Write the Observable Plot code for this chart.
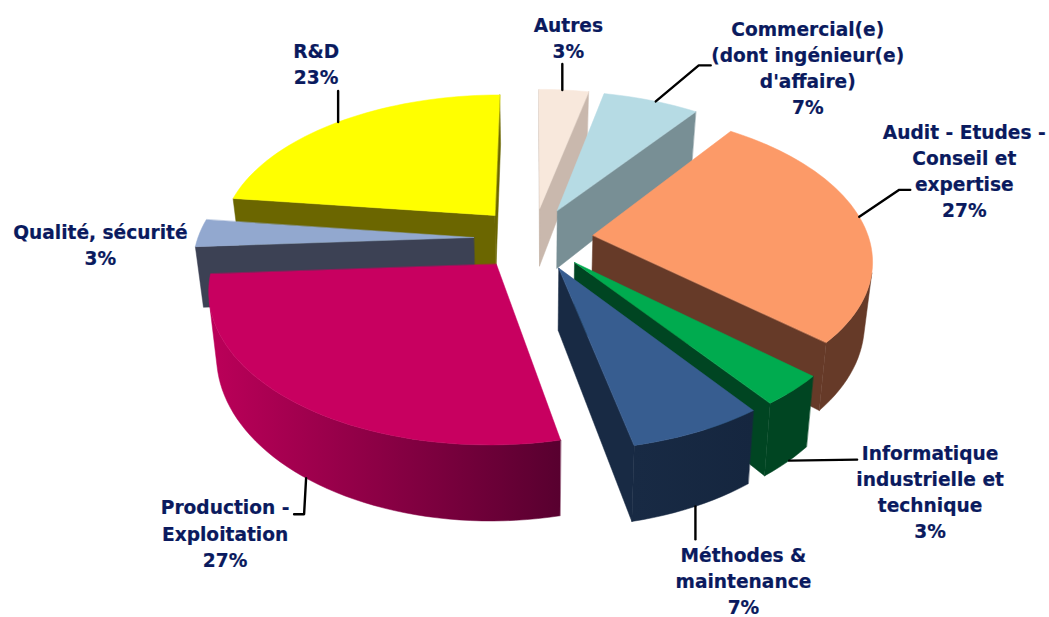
<!DOCTYPE html>
<html lang="fr">
<head>
<meta charset="utf-8">
<script src="https://cdn.jsdelivr.net/npm/d3@7"></script>
<script src="https://cdn.jsdelivr.net/npm/@observablehq/plot@0.6"></script>
<style>
  html, body { margin: 0; padding: 0; background: #fff; }
  svg { display: block; }
</style>
</head>
<body>
<div id="chart"></div>
<script>
// Data (slice sizes; the labels show them rounded)
const categories = [
  "Autres",
  "Commercial(e)\n(dont ingénieur(e)\nd'affaire)",
  "Audit - Etudes -\nConseil et\nexpertise",
  "Informatique\nindustrielle et\ntechnique",
  "Méthodes &\nmaintenance",
  "Production -\nExploitation",
  "Qualité, sécurité",
  "R&D"
];
const values = [3.4, 6.6, 26.7, 3.3, 6.6, 27.4, 3, 23];

// Colours
const topColors = ["#f8e8dc", "#b6dbe4", "#fc9a68", "#00ab4f", "#375d90", "#c80060", "#92a8cf", "#ffff00"];
const wallFrom  = ["#c9b8ad", "#788f95", "#663a28", "#004522", "#15263f", "#58002f", "#3c4154", "#6b6600"];
const wallTo    = ["#c9b8ad", "#788f95", "#663a28", "#004522", "#182a44", "#bb0059", "#3c4154", "#6b6600"];
const textColor = "#0a1a5e";

// Projection of the tilted, exploded pie
const view = {cx: 533, cy: 238, rx: 276, ry: 145, persp: 0.15, depth: 60, depthPersp: 0.18, shrink: 0.976, explode: 0.217};
const project = (gx, gy, low) => {
  const s = 1 / (1 + view.persp * gy);
  const sd = 1 / (1 + view.depthPersp * gy);
  return low
    ? {x: view.cx + view.rx * gx * s * view.shrink, y: view.cy - view.ry * gy * s + view.depth * sd}
    : {x: view.cx + view.rx * gx * s, y: view.cy - view.ry * gy * s};
};

// Leader anchor on each slice: fraction of its arc, on the lower rim or not
const anchorAt   = [[0.47, false], [0.55, false], [0.484, false], [0.45, true], [0.49, true], [0.49, true], [0, false], [0.5, false]];
const leaderBend = [[[0, -26]], [[43, -36], [55, -36]], [[40, -27], [51, -27]], [[68, -1]], [[0, 33]], [[-2, 36], [-12, 36]], [], [[0, -31]]];
const labelShift = [[6, -53], [152, -35], [105, -47], [141, 30], [48, 73], [-81, 54], [-95, -3], [-22, -59]];

// Build geometry from the values
const total = d3.sum(values);
let acc = 0;
const slices = values.map((v, i) => {
  const a0 = acc / total * 2 * Math.PI;
  acc += v;
  const a1 = acc / total * 2 * Math.PI;
  const mid = (a0 + a1) / 2;
  const ox = view.explode * Math.sin(mid), oy = view.explode * Math.cos(mid);
  const ground = a => [ox + Math.sin(a), oy + Math.cos(a)];
  return {i, a0, a1, mid, ox, oy, ground};
});

const faces = [];
const gradients = [];
let faceId = 0;
const addFace = (pts, fill) => {
  const id = faceId++;
  pts.forEach(p => faces.push({id, x: p.x, y: p.y, fill}));
};
const area = pts => d3.sum(pts, (p, k) => {
  const q = pts[(k + 1) % pts.length];
  return p.x * q.y - q.x * p.y;
});
const wallQuad = (g0, g1) => [project(...g0, false), project(...g1, false), project(...g1, true), project(...g0, true)];
const addWall = (g0, g1, fill) => {
  const quad = wallQuad(g0, g1);
  if (area(quad) < 0) addFace(quad, fill);
};

const drawOrder = [...slices].sort((a, b) => Math.cos(b.mid) - Math.cos(a.mid));
for (const sl of drawOrder) {
  const apex = [sl.ox, sl.oy];
  const steps = Math.max(4, Math.ceil((sl.a1 - sl.a0) / (2 * Math.PI / 180)));
  const arc = d3.range(steps + 1).map(k => sl.ground(sl.a0 + (sl.a1 - sl.a0) * k / steps));
  addWall(apex, arc[0], wallFrom[sl.i]);
  addWall(arc[steps], apex, wallTo[sl.i]);
  // Outer rim: every run of visible steps becomes one polygon with a horizontal gradient
  const x0 = project(...arc[0], false).x, x1 = project(...arc[steps], false).x;
  const gradId = "rim" + sl.i;
  gradients.push({id: gradId, x1: x0, x2: x1, from: wallFrom[sl.i], to: wallTo[sl.i]});
  let run = [];
  const flush = () => {
    if (run.length > 1) {
      addFace([...run.map(g => project(...g, false)), ...run.slice().reverse().map(g => project(...g, true))], `url(#${gradId})`);
    }
    run = [];
  };
  for (let k = 0; k < steps; k++) {
    if (area(wallQuad(arc[k], arc[k + 1])) < 0) {
      if (!run.length) run.push(arc[k]);
      run.push(arc[k + 1]);
    } else flush();
  }
  flush();
  addFace([project(...apex, false), ...arc.map(g => project(...g, false))], topColors[sl.i]);
}

// Labels and leaders
const anchors = slices.map((sl, i) => {
  const [f, low] = anchorAt[i];
  return project(...sl.ground(sl.a0 + (sl.a1 - sl.a0) * f), low);
});
const labels = categories.map((c, i) => ({
  text: c + "\n" + Math.round(values[i]) + "%",
  x: anchors[i].x + labelShift[i][0],
  y: anchors[i].y + labelShift[i][1]
}));
const leaders = anchors.flatMap((p, i) =>
  leaderBend[i].length ? [p, ...leaderBend[i].map(([dx, dy]) => ({x: p.x + dx, y: p.y + dy}))].map(q => ({i, x: q.x, y: q.y})) : []
);

const gradientDefs = () => {
  const defs = d3.create("svg:defs");
  const g = defs.selectAll("linearGradient").data(gradients).join("linearGradient")
    .attr("id", d => d.id)
    .attr("gradientUnits", "userSpaceOnUse")
    .attr("x1", d => d.x1).attr("x2", d => d.x2).attr("y1", 0).attr("y2", 0);
  g.append("stop").attr("offset", 0).attr("stop-color", d => d.from);
  g.append("stop").attr("offset", 1).attr("stop-color", d => d.to);
  return defs.node();
};

const plot = Plot.plot({
  width: 1049,
  height: 617,
  margin: 0,
  style: {background: "#fff"},
  x: {domain: [0, 1049], range: [0, 1049], axis: null},
  y: {domain: [0, 617], range: [0, 617], axis: null},
  color: {type: "identity"},
  marks: [
    gradientDefs,
    Plot.line(faces, {x: "x", y: "y", z: "id", fill: "fill", stroke: "fill", strokeWidth: 0.5, curve: "linear-closed"}),
    Plot.line(leaders, {x: "x", y: "y", z: "i", stroke: "#000", strokeWidth: 2.4, curve: "linear"}),
    Plot.text(labels, {
      x: "x", y: "y", text: "text",
      fill: textColor, stroke: textColor, strokeWidth: 0.2,
      fontFamily: "'DejaVu Sans', sans-serif", fontWeight: "bold", fontSize: 18.6,
      lineHeight: 1.4, textAnchor: "middle"
    })
  ]
});
document.getElementById("chart").append(plot);
</script>
</body>
</html>
